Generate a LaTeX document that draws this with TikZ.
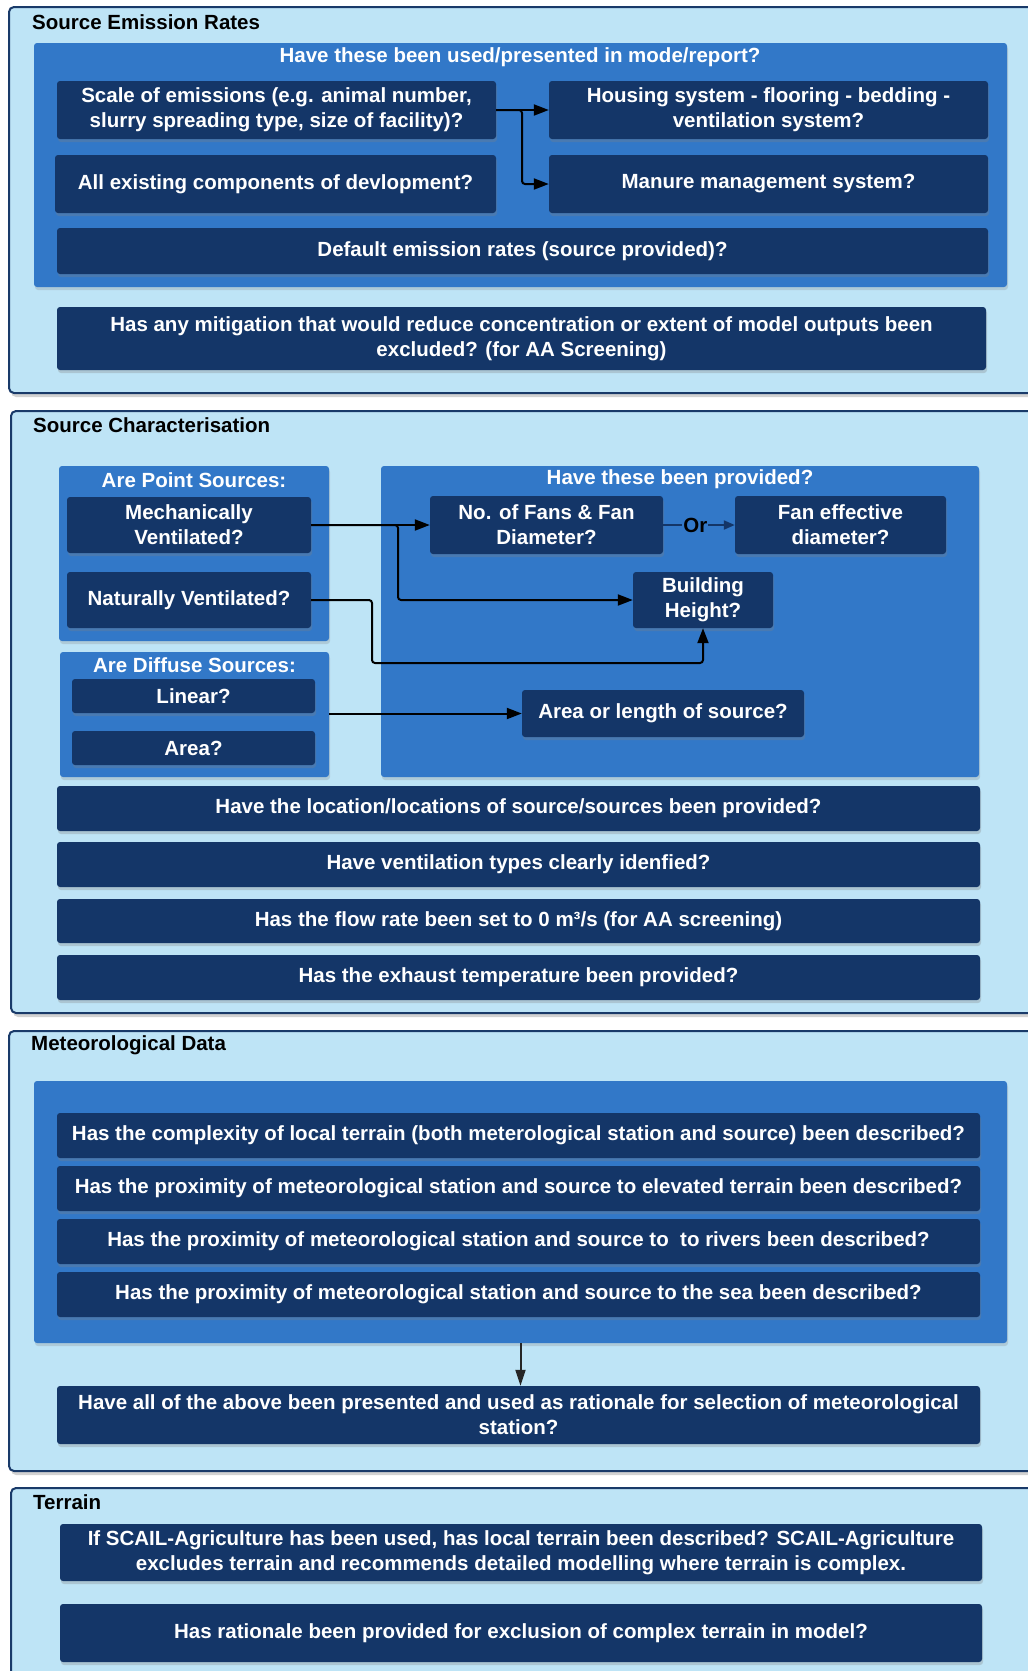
\documentclass[tikz,border=0pt]{standalone}
\usepackage{fontspec}
\setmainfont{Liberation Sans}
\usetikzlibrary{arrows.meta,shadows}
\definecolor{lightC}{RGB}{190,228,246}
\definecolor{midC}{RGB}{50,120,200}
\definecolor{navyC}{RGB}{20,54,104}
\definecolor{frameC}{RGB}{25,58,105}
% style, name, x1, y1, x2, y2, text
\newcommand\mybox[7]{\node[#1, minimum width={#5-#3}, minimum height={#6-#4}] (#2) at ({(#3+#5)/2},{(#4+#6)/2}) {#7};}
\tikzset{
  framebox/.style={draw=frameC, line width=2pt, fill=lightC, rounded corners=5pt,
    drop shadow={shadow xshift=2pt, shadow yshift=-4pt, opacity=0.35}},
  contbox/.style={fill=midC, rounded corners=3pt, inner sep=0pt,
    drop shadow={shadow xshift=1pt, shadow yshift=-3pt, opacity=0.25}},
  darkbox/.style={fill=navyC, rounded corners=3pt, text=white, align=center, inner sep=1pt,
    drop shadow={shadow xshift=1pt, shadow yshift=-3pt, opacity=0.3}},
  hdr/.style={text=white, inner sep=0pt},
  ttl/.style={text=black, anchor=west, inner sep=0pt},
  arr/.style={draw=black, line width=2pt, rounded corners=3pt, -{Triangle[length=15pt,width=11pt]}},
  orarr/.style={draw=navyC, line width=2pt, -{Triangle[length=11pt,width=9pt]}},
  thinarr/.style={draw=black!85, line width=2pt, -{Triangle[length=16pt,width=10pt]}},
}
\begin{document}
\begin{tikzpicture}[x=1pt,y=-1pt, every node/.style={font=\fontsize{20.5}{25}\selectfont\bfseries}]
\clip (0,0) rectangle (1028,1671);
\fill[white] (0,0) rectangle (1028,1671);

% ---------------- Section 1 ----------------
\mybox{framebox}{F1}{9}{7}{1045}{393}{}
\node[ttl] (T1) at (32,22) {Source Emission Rates};
\mybox{contbox}{C1}{34}{43}{1007}{287}{}
\node[hdr] (H1) at (520,57) {Have these been used/presented in mode/report?};
\mybox{darkbox}{scale}{57}{81}{496}{139}{Scale of emissions (e.g. animal number,\\slurry spreading type, size of facility)?}
\mybox{darkbox}{housing}{549}{81}{988}{139}{Housing system - flooring - bedding -\\ventilation system?}
\mybox{darkbox}{allexist}{55}{155}{496}{213}{All existing components of devlopment?}
\mybox{darkbox}{manure}{549}{155}{988}{213}{Manure management system?}
\mybox{darkbox}{default}{57}{228}{988}{274}{Default emission rates (source provided)?}
\mybox{darkbox}{mitig}{57}{307}{986}{370}{Has any mitigation that would reduce concentration or extent of model outputs been\\excluded? (for AA Screening)}
\coordinate (b1) at (522,110);
\draw[arr] (scale.east) -- (housing.west);
\draw[arr] (scale.east) -- (b1) |- (manure.west);

% ---------------- Section 2 ----------------
\mybox{framebox}{F2}{11}{411}{1045}{1013}{}
\node[ttl] (T2) at (33,425) {Source Characterisation};
\mybox{contbox}{point}{59}{466}{329}{641}{}
\node[hdr] (H2a) at (194,480) {Are Point Sources:};
\mybox{darkbox}{mech}{67}{497}{311}{553}{Mechanically\\Ventilated?}
\mybox{darkbox}{nat}{67}{572}{311}{628}{Naturally Ventilated?}
\mybox{contbox}{diffuse}{60}{652}{329}{777}{}
\node[hdr] (H2b) at (194.5,665) {Are Diffuse Sources:};
\mybox{darkbox}{linear}{72}{679}{315}{713}{Linear?}
\mybox{darkbox}{area}{72}{731}{315}{765}{Area?}
\mybox{contbox}{provided}{381}{466}{979}{777}{}
\node[hdr] (H2c) at (680,479) {Have these been provided?};
\mybox{darkbox}{fans}{430}{496}{663}{554}{No. of Fans \& Fan\\Diameter?}
\mybox{darkbox}{faneff}{735}{496}{946}{554}{Fan effective\\diameter?}
\mybox{darkbox}{bheight}{633}{572}{773}{628}{Building\\Height?}
\mybox{darkbox}{arealen}{522}{690}{804}{737}{Area or length of source?}
\mybox{darkbox}{r1}{57}{786}{980}{831}{Have the location/locations of source/sources been provided?}
\mybox{darkbox}{r2}{57}{842}{980}{887}{Have ventilation types clearly idenfied?}
\mybox{darkbox}{r3}{57}{899}{980}{943}{Has the flow rate been set to 0 m³/s (for AA screening)}
\mybox{darkbox}{r4}{57}{955}{980}{1000}{Has the exhaust temperature been provided?}
\coordinate (j1) at (398,525);
\coordinate (j2) at (372,600);
\coordinate (j3) at (372,663);
\draw[arr] (mech.east) -- (fans.west);
\draw[arr] (mech.east) -- (j1) |- (bheight.west);
\draw[arr] (nat.east) -- (j2) -- (j3) -| (bheight.south);
\draw[arr] (arealen.west -| diffuse.east) -- (arealen.west);
\draw[orarr] (fans.east) -- node[fill=midC, text=black, inner sep=1pt, pos=0.45] (orlbl) {Or} (faneff.west);

% ---------------- Section 3 ----------------
\mybox{framebox}{F3}{9}{1031}{1045}{1471}{}
\node[ttl] (T3) at (31,1045) {Meteorological Data};
\mybox{contbox}{C3}{34}{1081}{1007}{1343}{}
\mybox{darkbox}{m1}{57}{1113}{980}{1158}{Has the complexity of local terrain (both meterological station and source) been described?}
\mybox{darkbox}{m2}{57}{1166}{980}{1211}{Has the proximity of meteorological station and source to elevated terrain been described?}
\mybox{darkbox}{m3}{57}{1219}{980}{1264}{Has the proximity of meteorological station and source to \ to rivers been described?}
\mybox{darkbox}{m4}{57}{1272}{980}{1317}{Has the proximity of meteorological station and source to the sea been described?}
\mybox{darkbox}{final}{57}{1386}{980}{1444}{Have all of the above been presented and used as rationale for selection of meteorological\\station?}
\draw[thinarr] (C3.south) -- (C3.south |- final.north);

% ---------------- Section 4 ----------------
\mybox{framebox}{F4}{11}{1488}{1045}{1720}{}
\node[ttl] (T4) at (33,1502) {Terrain};
\mybox{darkbox}{t1}{60}{1524}{982}{1581}{If SCAIL-Agriculture has been used, has local terrain been described? SCAIL-Agriculture\\excludes terrain and recommends detailed modelling where terrain is complex.}
\mybox{darkbox}{t2}{60}{1604}{982}{1662}{Has rationale been provided for exclusion of complex terrain in model?}
\end{tikzpicture}
\end{document}
